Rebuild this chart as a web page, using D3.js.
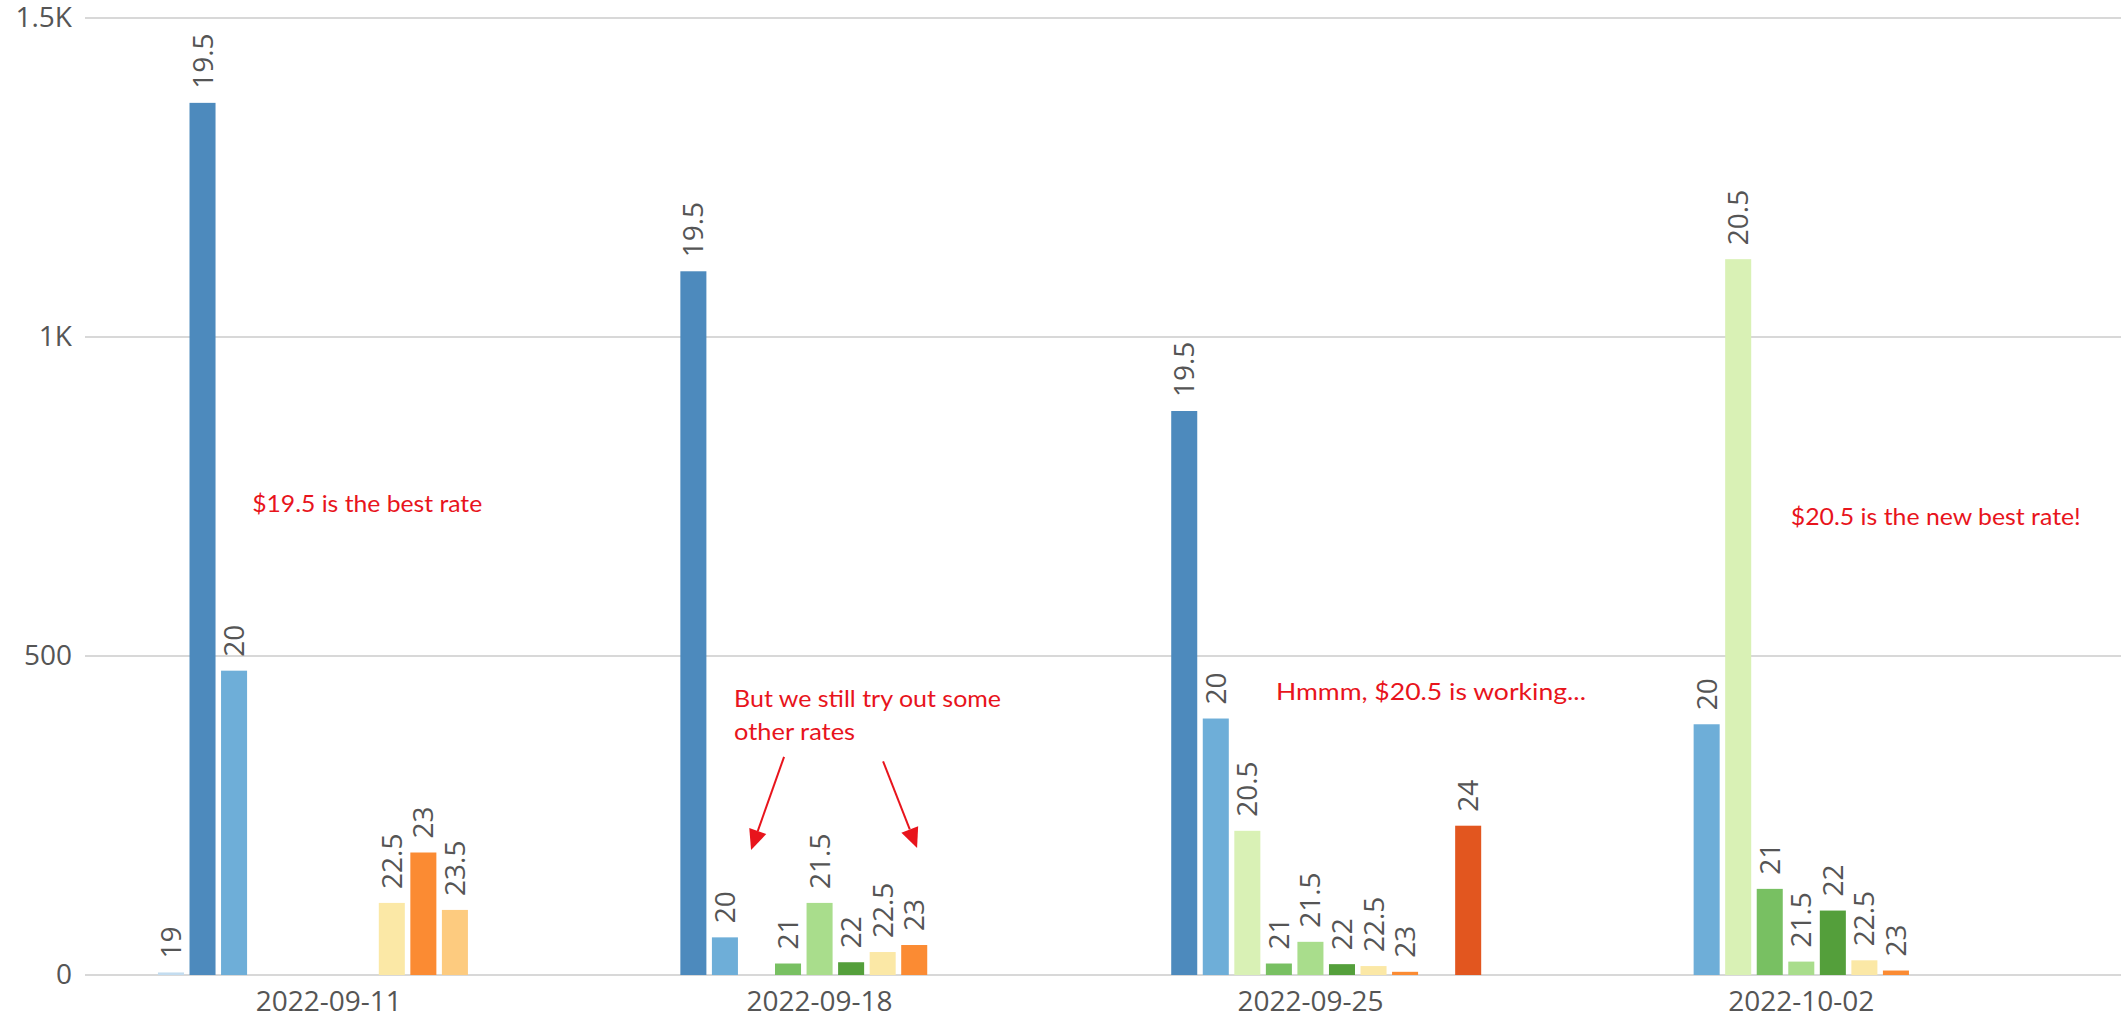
<!DOCTYPE html>
<html>
<head>
<meta charset="utf-8">
<script src="https://cdn.jsdelivr.net/npm/d3@7"></script>
<style>
  html, body { margin: 0; padding: 0; background: #fff; }
  svg { display: block; }
</style>
</head>
<body>
<svg id="chart" width="2123" height="1021"></svg>
<script>
// ---- data ----
const weeks = ["2022-09-11", "2022-09-18", "2022-09-25", "2022-10-02"];
const rates = ["19", "19.5", "20", "20.5", "21", "21.5", "22", "22.5", "23", "23.5", "24"];
const rate19   = [4, null, null, null];
const rate19_5 = [1367, 1103, 884, null];
const rate20   = [477, 59, 402, 393];
const rate20_5 = [null, null, 226, 1122];
const rate21   = [null, 18, 18, 135];
const rate21_5 = [null, 113, 52, 21];
const rate22   = [null, 20, 17, 101];
const rate22_5 = [113, 36, 14, 23];
const rate23   = [192, 47, 5, 7];
const rate23_5 = [102, null, null, null];
const rate24   = [null, null, 234, null];
const seriesValues = [rate19, rate19_5, rate20, rate20_5, rate21, rate21_5, rate22, rate22_5, rate23, rate23_5, rate24];
const yTicks = [0, 500, 1000, 1500];
const rateColors = ["#c3dcef", "#4d8abd", "#6eaed8", "#d9f1b5", "#78c062", "#a9dd8c", "#549f3b", "#fbe8a6", "#fb8b33", "#fdcb7f", "#e2561f"];

const annotations = [
  { week: "2022-09-11", dx: -76.5, value: 725, lines: ["$19.5 is the best rate"], widths: [230] },
  { week: "2022-09-18", dx: -85.5, value: 420, lines: ["But we still try out some", "other rates"], widths: [267, 121] },
  { week: "2022-09-25", dx: -34.5, value: 431, lines: ["Hmmm, $20.5 is working..."], widths: [310] },
  { week: "2022-10-02", dx: -10.5, value: 705, lines: ["$20.5 is the new best rate!"], widths: [290] }
];
const arrows = [
  { week: "2022-09-18", dx1: -35.5, v1: 342, dx2: -68.5, v2: 196 },
  { week: "2022-09-18", dx1: 63.5, v1: 335, dx2: 97.5, v2: 199 }
];

// ---- layout ----
const W = 2123, H = 1021;
const plotLeft = 85, plotRight = 2121;
const svg = d3.select("#chart");

const x = d3.scaleBand().domain(weeks).range([85, 2045]).paddingInner(0.293).paddingOuter(0.143);
const xInner = d3.scaleBand().domain(rates).range([0, x.bandwidth()]).paddingInner(0.175).paddingOuter(0.0875);
const y = d3.scaleLinear().domain([0, 1500]).range([975, 18]);
const color = d3.scaleOrdinal().domain(rates).range(rateColors);

const font = "'Open Sans', sans-serif";
const fmt = d => d >= 1000 ? (d / 1000) + "K" : String(d);

// gridlines
svg.append("g").selectAll("line").data(yTicks).join("line")
  .attr("x1", plotLeft).attr("x2", plotRight)
  .attr("y1", d => y(d)).attr("y2", d => y(d))
  .attr("stroke", "#d8d8d8").attr("stroke-width", 2);

// y axis labels
const yAxis = d3.axisLeft(y).tickValues(yTicks).tickFormat(fmt).tickSize(0).tickPadding(13);
const gy = svg.append("g").attr("transform", `translate(${plotLeft},0)`).call(yAxis);
gy.select(".domain").remove();
gy.selectAll("text").attr("font-family", font).attr("font-size", 28).attr("fill", "#555");

// x axis labels
const xAxis = d3.axisBottom(x).tickSize(0).tickPadding(16);
const gx = svg.append("g").attr("transform", `translate(0,975)`).call(xAxis);
gx.select(".domain").remove();
gx.selectAll("text").attr("font-family", font).attr("font-size", 28).attr("fill", "#555");

// bars
const cells = [];
weeks.forEach((w, wi) => {
  rates.forEach((r, ri) => {
    const v = seriesValues[ri][wi];
    if (v !== null && v !== undefined) cells.push({ week: w, rate: r, value: v });
  });
});

const groups = svg.append("g");
groups.selectAll("rect").data(cells).join("rect")
  .attr("x", d => x(d.week) + xInner(d.rate))
  .attr("width", xInner.bandwidth())
  .attr("y", d => y(d.value))
  .attr("height", d => y(0) - y(d.value))
  .attr("fill", d => color(d.rate));

// bar labels (rotated)
groups.selectAll("text").data(cells).join("text")
  .attr("transform", d => `translate(${x(d.week) + xInner(d.rate) + xInner.bandwidth() / 2 + 10},${y(d.value) - 14}) rotate(-90)`)
  .attr("font-family", font).attr("font-size", 28).attr("fill", "#555")
  .attr("text-anchor", "start")
  .text(d => d.rate);

// annotations
const center = w => x(w) + x.bandwidth() / 2;
const annColor = "#e8141c";
annotations.forEach(a => {
  const t = svg.append("text")
    .attr("font-family", "Lato, sans-serif").attr("font-size", 24).attr("fill", annColor);
  a.lines.forEach((ln, i) => {
    t.append("tspan")
      .attr("x", center(a.week) + a.dx)
      .attr("y", y(a.value) + i * 33)
      .attr("textLength", a.widths[i])
      .attr("lengthAdjust", "spacingAndGlyphs")
      .text(ln);
  });
});

// arrows
arrows.forEach(a => {
  const x1 = center(a.week) + a.dx1, y1 = y(a.v1);
  const x2 = center(a.week) + a.dx2, y2 = y(a.v2);
  const ang = Math.atan2(y2 - y1, x2 - x1);
  const len = 20, half = 9;
  const bx = x2 - len * Math.cos(ang), by = y2 - len * Math.sin(ang);
  svg.append("line")
    .attr("x1", x1).attr("y1", y1).attr("x2", bx).attr("y2", by)
    .attr("stroke", annColor).attr("stroke-width", 2);
  const px = -Math.sin(ang), py = Math.cos(ang);
  svg.append("path")
    .attr("d", `M${x2},${y2}L${bx + half * px},${by + half * py}L${bx - half * px},${by - half * py}Z`)
    .attr("fill", annColor);
});
</script>
</body>
</html>
